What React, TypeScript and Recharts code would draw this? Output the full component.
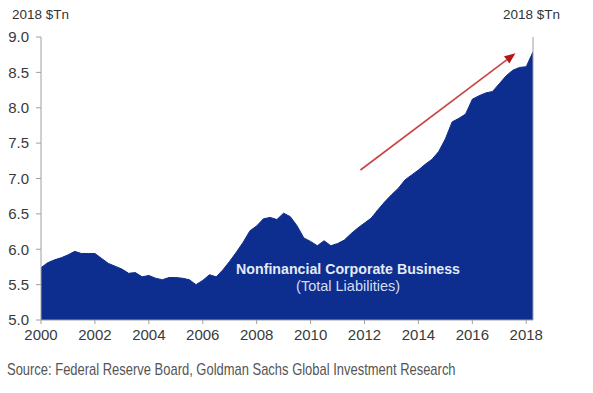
import React from "react";
import {
  AreaChart,
  Area,
  XAxis,
  YAxis,
  ReferenceLine,
  ReferenceDot,
} from "recharts";

const quarters: number[] = [
  2000.0, 2000.25, 2000.5, 2000.75, 2001.0, 2001.25, 2001.5, 2001.75,
  2002.0, 2002.25, 2002.5, 2002.75, 2003.0, 2003.25, 2003.5, 2003.75,
  2004.0, 2004.25, 2004.5, 2004.75, 2005.0, 2005.25, 2005.5, 2005.75,
  2006.0, 2006.25, 2006.5, 2006.75, 2007.0, 2007.25, 2007.5, 2007.75,
  2008.0, 2008.25, 2008.5, 2008.75, 2009.0, 2009.25, 2009.5, 2009.75,
  2010.0, 2010.25, 2010.5, 2010.75, 2011.0, 2011.25, 2011.5, 2011.75,
  2012.0, 2012.25, 2012.5, 2012.75, 2013.0, 2013.25, 2013.5, 2013.75,
  2014.0, 2014.25, 2014.5, 2014.75, 2015.0, 2015.25, 2015.5, 2015.75,
  2016.0, 2016.25, 2016.5, 2016.75, 2017.0, 2017.25, 2017.5, 2017.75,
  2018.0, 2018.25,
];

const liabilities: number[] = [
  5.74, 5.81, 5.85, 5.88, 5.92, 5.97, 5.94, 5.94,
  5.94, 5.87, 5.8, 5.76, 5.72, 5.66, 5.67, 5.61,
  5.63, 5.59, 5.57, 5.6, 5.6, 5.59, 5.57, 5.5,
  5.56, 5.64, 5.61, 5.71, 5.83, 5.96, 6.1, 6.26,
  6.33, 6.43, 6.45, 6.42, 6.51, 6.46, 6.33, 6.16,
  6.11, 6.05, 6.12, 6.05, 6.08, 6.13, 6.22, 6.3,
  6.37, 6.44, 6.56, 6.67, 6.77, 6.86, 6.98, 7.05,
  7.12, 7.2, 7.27, 7.38, 7.56, 7.8, 7.85, 7.91,
  8.12, 8.17, 8.21, 8.23, 8.34, 8.45, 8.53, 8.57,
  8.58, 8.79,
];

const xTicks: number[] = [2000, 2002, 2004, 2006, 2008, 2010, 2012, 2014, 2016, 2018];
const yTicks: number[] = [5.0, 5.5, 6.0, 6.5, 7.0, 7.5, 8.0, 8.5, 9.0];

const unitLabel = "2018 $Tn";
const seriesTitle = "Nonfinancial Corporate Business";
const seriesSubtitle = "(Total Liabilities)";
const sourceText =
  "Source: Federal Reserve Board, Goldman Sachs Global Investment Research";

const arrowStart = { x: 2011.85, y: 7.12 };
const arrowEnd = { x: 2017.6, y: 8.77 };
const labelAnchor = { x: 2011.39, y: 5.71 };

const data = quarters.map((q, i) => ({ t: q, v: liabilities[i] }));

const FONT = "Arial, 'Liberation Sans', Helvetica, sans-serif";
const FILL = "#0d2e8e";
const TICK_COLOR = "#3a3a3a";

const ArrowShape = (props: any) => {
  const { x1, y1, x2, y2 } = props;
  if (x1 == null) return null;
  const ang = Math.atan2(y2 - y1, x2 - x1);
  const len = 11;
  const w = 4.5;
  const bx = x2 - len * Math.cos(ang);
  const by = y2 - len * Math.sin(ang);
  const px = -Math.sin(ang) * w;
  const py = Math.cos(ang) * w;
  return (
    <g>
      <line x1={x1} y1={y1} x2={bx} y2={by} stroke="#c94444" strokeWidth={1.6} />
      <polygon
        points={`${x2},${y2} ${bx + px},${by + py} ${bx - px},${by - py}`}
        fill="#b51616"
      />
    </g>
  );
};

const LabelShape = (props: any) => {
  const { cx, cy } = props;
  if (cx == null) return null;
  return (
    <g>
      <text
        x={cx}
        y={cy}
        textAnchor="middle"
        dominantBaseline="middle"
        fill="#e4eaf8"
        fontFamily={FONT}
        fontWeight="bold"
        fontSize={14.2}
      >
        {seriesTitle}
      </text>
      <text
        x={cx}
        y={cy + 17}
        textAnchor="middle"
        dominantBaseline="middle"
        fill="#d5ddf2"
        fontFamily={FONT}
        fontSize={14.5}
      >
        {seriesSubtitle}
      </text>
    </g>
  );
};

export default function App() {
  return (
    <div
      style={{
        position: "absolute",
        left: 0,
        top: 0,
        width: 593,
        height: 393,
        background: "#ffffff",
        fontFamily: FONT,
      }}
    >
      <div
        style={{
          position: "absolute",
          left: 12,
          top: 7,
          fontSize: 13.5,
          color: "#333333",
          whiteSpace: "nowrap",
        }}
      >
        {unitLabel}
      </div>
      <div
        style={{
          position: "absolute",
          left: 503,
          top: 7,
          fontSize: 13.5,
          color: "#333333",
          whiteSpace: "nowrap",
        }}
      >
        {unitLabel}
      </div>
      <AreaChart
        width={593}
        height={393}
        data={data}
        margin={{ top: 37, right: 0, bottom: 43, left: 0 }}
      >
        <XAxis
          dataKey="t"
          type="number"
          domain={[2000, 2018.25]}
          ticks={xTicks}
          allowDataOverflow
          height={30}
          tickSize={4}
          tickMargin={5}
          axisLine={{ stroke: "#a0a0a0" }}
          tickLine={{ stroke: "#a0a0a0" }}
          tick={{ fill: TICK_COLOR, fontSize: 15, fontFamily: FONT }}
        />
        <YAxis
          yAxisId="left"
          orientation="left"
          domain={[5, 9]}
          ticks={yTicks}
          width={41}
          tickSize={5}
          tickMargin={7}
          tickFormatter={(v: number) => v.toFixed(1)}
          axisLine={{ stroke: "#a0a0a0" }}
          tickLine={{ stroke: "#a0a0a0" }}
          tick={{ fill: TICK_COLOR, fontSize: 15, fontFamily: FONT }}
        />
        <YAxis
          yAxisId="right"
          orientation="right"
          domain={[5, 9]}
          ticks={yTicks}
          width={60}
          tickSize={5}
          tickMargin={4}
          tickFormatter={(v: number) => v.toFixed(1)}
          axisLine={{ stroke: "#a0a0a0" }}
          tickLine={{ stroke: "#a0a0a0" }}
          tick={{ fill: TICK_COLOR, fontSize: 15, fontFamily: FONT }}
        />
        <Area
          yAxisId="left"
          type="linear"
          dataKey="v"
          stroke={FILL}
          strokeWidth={1}
          fill={FILL}
          fillOpacity={1}
          baseValue={5}
          isAnimationActive={false}
          dot={false}
          activeDot={false}
        />
        <ReferenceLine
          yAxisId="left"
          segment={[arrowStart, arrowEnd]}
          shape={ArrowShape}
          ifOverflow="visible"
        />
        <ReferenceDot
          yAxisId="left"
          x={labelAnchor.x}
          y={labelAnchor.y}
          r={0}
          shape={LabelShape}
          ifOverflow="visible"
        />
      </AreaChart>
      <div
        style={{
          position: "absolute",
          left: 7,
          top: 360,
          fontSize: 17,
          lineHeight: "20px",
          color: "#555555",
          fontFamily: FONT,
          whiteSpace: "nowrap",
          transform: "scaleX(0.762)",
          transformOrigin: "0 0",
        }}
      >
        {sourceText}
      </div>
    </div>
  );
}
